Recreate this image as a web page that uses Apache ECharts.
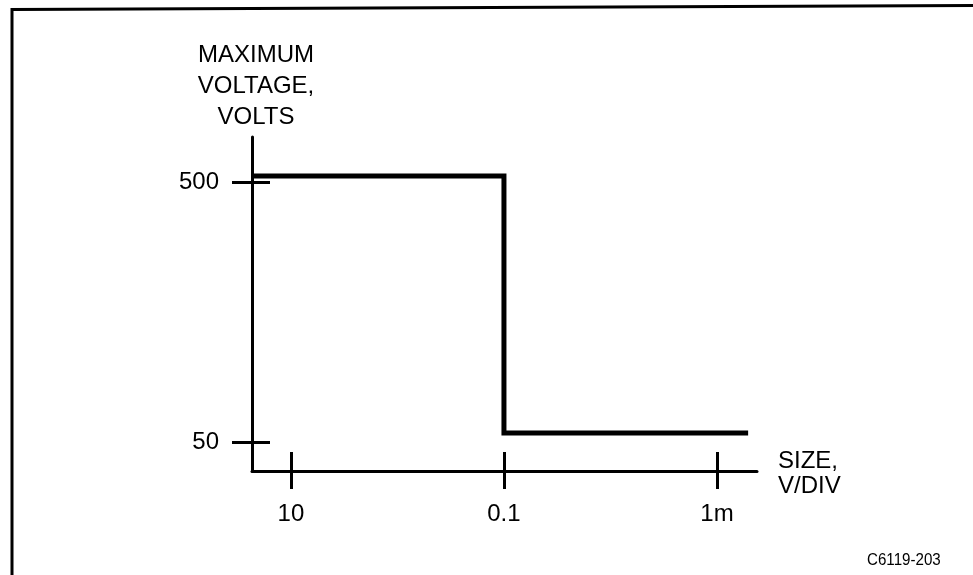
<!DOCTYPE html>
<html>
<head>
<meta charset="utf-8">
<script src="https://cdn.jsdelivr.net/npm/echarts@6/dist/echarts.min.js"></script>
<style>
html,body{margin:0;padding:0;background:#fff;}
#chart{width:973px;height:575px;}
</style>
</head>
<body>
<div id="chart"></div>
<script>
// Data (V/DIV on a reversed log axis, volts on a log axis)
const sizeVdiv = [23.2, 0.1, 0.1, 0.00051];
const maxVolts = [527, 527, 54.2, 54.2];
const xTickValues = [10, 0.1, 0.001];
const xTickLabels = ['10', '0.1', '1m'];
const yTickValues = [50, 500];
const yTickLabels = ['50', '500'];
const xNameLines = ['SIZE,', 'V/DIV'];
const yName = 'MAXIMUM\nVOLTAGE,\nVOLTS';
const figId = 'C6119-203';

const font = 'Liberation Sans, Arial, Helvetica, sans-serif';
function lookup(vals, labels, v) {
  let best = 0, bd = Infinity;
  vals.forEach((t, i) => {
    const d = Math.abs(Math.log10(t) - Math.log10(v));
    if (d < bd) { bd = d; best = i; }
  });
  return bd < 0.01 ? labels[best] : '';
}

const xRange = {min: 0.000421, max: 23.2};
const yRange = {min: 38.7, max: 745};

const chart = echarts.init(document.getElementById('chart'), null, {renderer: 'canvas'});
chart.setOption({
  animation: false,
  backgroundColor: '#fff',
  grid: {left: 252, right: 216, top: 137, bottom: 104, containLabel: false},
  xAxis: [{
    type: 'log', logBase: 10, inverse: true, position: 'bottom',
    min: xRange.min, max: xRange.max,
    name: '{a|' + xNameLines[0] + '}\n{b|' + xNameLines[1] + '}', nameLocation: 'start', nameGap: 21,
    nameTextStyle: {fontFamily: font, fontSize: 24, color: '#000', align: 'left', verticalAlign: 'middle',
      rich: {
        a: {fontFamily: font, fontSize: 24, color: '#000', lineHeight: 30, verticalAlign: 'bottom'},
        b: {fontFamily: font, fontSize: 24, color: '#000', lineHeight: 26, verticalAlign: 'middle'}
      }},
    axisLine: {show: true, lineStyle: {color: '#000', width: 3}},
    axisTick: {show: true, inside: false, length: 18, lineStyle: {color: '#000', width: 3}, customValues: xTickValues},
    axisLabel: {show: true, margin: 31, fontFamily: font, fontSize: 24, color: '#000', customValues: xTickValues,
      formatter: v => lookup(xTickValues, xTickLabels, v)},
    splitLine: {show: false}, minorTick: {show: false}
  }, {
    type: 'log', logBase: 10, inverse: true, position: 'bottom', gridIndex: 0,
    min: xRange.min, max: xRange.max,
    axisLine: {show: false},
    axisTick: {show: true, inside: true, length: 19, lineStyle: {color: '#000', width: 3}, customValues: xTickValues},
    axisLabel: {show: false}, splitLine: {show: false}
  }],
  yAxis: [{
    type: 'log', logBase: 10, position: 'left',
    min: yRange.min, max: yRange.max,
    name: yName, nameLocation: 'end', nameGap: 4,
    nameTextStyle: {fontFamily: font, fontSize: 24, color: '#000', lineHeight: 31, align: 'center', verticalAlign: 'bottom', padding: [0, 0, 0, 8]},
    axisLine: {show: true, lineStyle: {color: '#000', width: 3}},
    axisTick: {show: true, inside: false, length: 20, lineStyle: {color: '#000', width: 3}, customValues: yTickValues},
    axisLabel: {show: true, margin: 33, fontFamily: font, fontSize: 24, color: '#000', customValues: yTickValues,
      formatter: v => lookup(yTickValues, yTickLabels, v)},
    splitLine: {show: false}, minorTick: {show: false}
  }, {
    type: 'log', logBase: 10, position: 'left', gridIndex: 0,
    min: yRange.min, max: yRange.max,
    axisLine: {show: false},
    axisTick: {show: true, inside: true, length: 18, lineStyle: {color: '#000', width: 3}, customValues: yTickValues},
    axisLabel: {show: false}, splitLine: {show: false}
  }],
  series: [{
    type: 'line',
    xAxisIndex: 0, yAxisIndex: 0,
    data: sizeVdiv.map((x, i) => [x, maxVolts[i]]),
    showSymbol: false, symbol: 'none',
    lineStyle: {color: '#000', width: 5, cap: 'butt', join: 'miter'},
    clip: false, silent: true
  }],
  graphic: [
    {type: 'polyline', silent: true, shape: {points: [[12, 575], [12, 9.5], [973, 5.5]]},
      style: {stroke: '#000', lineWidth: 3, fill: null}},
    {type: 'text', silent: true, x: 867, y: 552, scaleX: 0.89, scaleY: 1,
      style: {text: figId, fontFamily: font, fontSize: 17, fill: '#000'}}
  ]
});
</script>
</body>
</html>
